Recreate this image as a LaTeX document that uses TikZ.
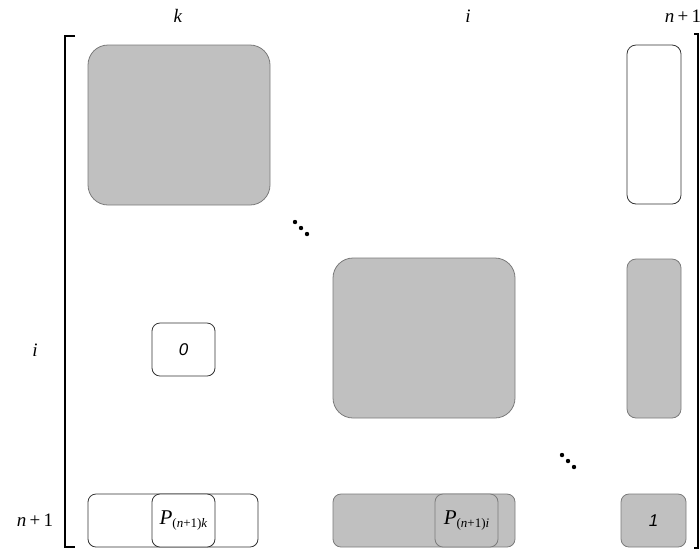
\documentclass[tikz,border=0pt]{standalone}
\usepackage{fontspec}
\newfontfamily\boxfont{Liberation Sans}
\newfontfamily\labfont{Liberation Serif}
\usetikzlibrary{positioning}
\definecolor{cellgrey}{HTML}{C0C0C0}
\definecolor{celledge}{HTML}{7A7A7A}

\begin{document}
\begin{tikzpicture}[x=1pt, y=-1pt,
  bigcell/.style={draw=celledge, fill=cellgrey, rounded corners=20pt, minimum width=182pt, minimum height=160pt, line width=0.8pt, inner sep=0pt},
  colcell/.style={draw, rounded corners=9pt, minimum width=54pt, minimum height=159pt, line width=0.8pt, inner sep=0pt},
  smallcell/.style={draw, rounded corners=8pt, minimum width=63pt, minimum height=53pt, line width=0.8pt, inner sep=0pt, font=\boxfont\itshape\fontsize{17}{19}\selectfont},
  rowcell/.style={draw, rounded corners=8pt, minimum height=53pt, line width=0.8pt, inner sep=0pt},
  greycell/.style={draw=celledge, fill=cellgrey},
  whitecell/.style={draw=black!80, fill=white},
  idx/.style={font=\labfont\fontsize{19}{21}\selectfont},
  plabel/.style={font=\labfont\fontsize{21}{23}\selectfont},
  dot/.style={fill=black}
]
\useasboundingbox (0,0) rectangle (700,550);

% column and row indices
\node[idx] (colk) at (178,16) {\textit{k}};
\node[idx] (coli) at (468,16) {\textit{i}};
\node[idx] (coln) at (683,16) {\textit{n}\,+\,1};
\node[idx] (rowi) at (35,350) {\textit{i}};
\node[idx] (rown) at (35,520) {\textit{n}\,+\,1};

% matrix brackets
\draw[line width=1.2pt] (75,36) -- (65,36) -- (65,547) -- (75,547);
\draw[line width=1.2pt] (694,34) -- (698,34) -- (698,548) -- (694,548);

% diagonal blocks
\node[bigcell] (blockk) at (179,125) {};
\node[bigcell] (blocki) at (424,338) {};

% last column
\node[colcell, whitecell] (coltop) at (654,124.5) {};
\node[colcell, greycell] (colmid) at (654,338.5) {};

% zero block
\node[smallcell, whitecell] (zero) at (183.5,349.5) {0};

% last row
\node[rowcell, whitecell, minimum width=170pt] (rowk) at (173,520.5) {};
\node[smallcell, whitecell, plabel] (pk) at (183.5,520.5) {\textit{P}\raisebox{-0.35ex}{\fontsize{13}{14}\selectfont(\textit{n}+1)\textit{k}}};
\node[rowcell, greycell, minimum width=182pt] (rowii) at (424,520.5) {};
\node[smallcell, greycell, plabel] (pi) at (466.5,520.5) {\textit{P}\raisebox{-0.35ex}{\fontsize{13}{14}\selectfont(\textit{n}+1)\textit{i}}};
\node[smallcell, greycell, minimum width=65pt] (one) at (653.5,520.5) {1};

% dots
\foreach \cx/\cy in {295/222, 301/228, 307/234, 562/455, 568/461, 574/467}
  \fill[dot] (\cx,\cy) circle (2.2pt);

\end{tikzpicture}
\end{document}
